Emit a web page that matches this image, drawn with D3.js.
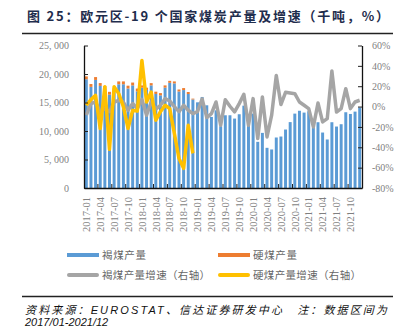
<!DOCTYPE html>
<html>
<head>
<meta charset="utf-8">
<script src="https://cdn.jsdelivr.net/npm/d3@7"></script>
<style>
body { margin: 0; background: #fff; }
svg { display: block; }
</style>
</head>
<body>
<div class="output"></div>
<script>
// 月份 2017-01 ... 2021-12
const months = [];
for (let y = 2017; y <= 2021; y++) {
    for (let m = 1; m <= 12; m++) months.push(y + "-" + String(m).padStart(2, "0"));
}

// 褐煤产量（千吨）
const lignite = [
    19080, 17740, 18960, 17910, 17400, 16370, 17000, 18200, 18200, 17450, 18000, 16950,
    17600, 17200, 18000, 16500, 16250, 17600, 18450, 18350, 16930, 17180, 16490, 15530,
    15030, 15970, 14510, 12470, 13630, 10840, 12760, 12760, 12180, 12940, 14450, 11010,
    13050, 8100, 9670, 7050, 6760, 8860, 9030, 10260, 11560, 13050, 13550, 13230,
    13460, 10610, 11540, 9730, 8510, 11540, 10780, 11190, 13290, 12990, 13400, 14100
];
// 硬煤产量（千吨），2019 年起无数据
const hardCoal = [
    500, 500, 500, 500, 500, 500, 500, 500, 500, 500, 500, 500,
    400, 400, 400, 400, 400, 400, 350, 350, 350, 350, 350, 150,
    null, null, null, null, null, null, null, null, null, null, null, null,
    null, null, null, null, null, null, null, null, null, null, null, null,
    null, null, null, null, null, null, null, null, null, null, null, null
];
// 褐煤产量增速（%，右轴）
const ligniteYoY = [
    -8.5, 3, 4.5, -5, -2, -5, 4.5, 6, 4.5, -3.6, 3, -2,
    7, -8.5, 4.5, -2.5, 1.3, 7.8, 5.5, 0, -5, 1.3, -3.6, -7,
    -5, 7.5, -10.8, -6.9, 4.5, -18.3, 6.8, 0.3, -5.3, 2.9, 12, -18.3,
    7.8, -31.4, 9.4, -29.8, -8.5, 30.6, 2, 14, 13.3, 12.7, 4.5, 1.3,
    -2, -20, 3.5, -15.1, -11.8, 35, -5.3, -2, 17.6, -2, 4.5, 6.2
];
// 硬煤产量增速（%，右轴）
const hardCoalYoY = [
    1.3, 6.8, 11, -21.5, 19.5, -42, 19.5, 12.7, 0, -21.5, -3.6, -4.5,
    45.3, 4.5, 14.3, -13.4, -5, 1.3, -2, -26.4, -50.9, -60.7, -18.3, -46
];

const leftTicks = [0, 5000, 10000, 15000, 20000, 25000];
const leftTickLabels = ["0", "5, 000", "10, 000", "15, 000", "20, 000", "25, 000"];
const rightTicks = [-80, -60, -40, -20, 0, 20, 40, 60];
const rightTickLabels = ["-80%", "-60%", "-40%", "-20%", "0%", "20%", "40%", "60%"];

const colors = { lignite: "#5b9bd5", hard: "#ed7d31", ligYoY: "#a5a5a5", hardYoY: "#ffc000" };

const W = 411, H = 331;
const plot = { left: 84, right: 362, top: 45.5, bottom: 188 };

const svg = d3.select(".output").append("svg")
    .attr("width", W).attr("height", H);

// 标题
svg.append("text")
    .attr("x", 27).attr("y", 21)
    .attr("textLength", 362).attr("lengthAdjust", "spacing")
    .style("font-family", "'Noto Sans CJK SC', sans-serif")
    .style("font-size", "13px").style("font-weight", "bold")
    .style("fill", "#1f2d4d")
    .text("图 25：欧元区-19 个国家煤炭产量及增速（千吨，%）");
svg.append("line")
    .attr("x1", 22).attr("x2", 393).attr("y1", 33.5).attr("y2", 33.5)
    .attr("stroke", "#222").attr("stroke-width", 1.5);

// 比例尺
let x = d3.scaleBand()
    .domain(months)
    .range([plot.left, plot.right])
    .paddingInner(0.36)
    .paddingOuter(0.18);
let y = d3.scaleLinear().domain([0, 25000]).range([plot.bottom, plot.top]);
let y2 = d3.scaleLinear().domain([-80, 60]).range([plot.bottom, plot.top]);

// 柱状图
let bars = svg.append("g");
bars.selectAll("rect.lig")
    .data(months)
    .enter().append("rect")
    .attr("class", "lig")
    .attr("x", (d) => x(d))
    .attr("width", x.bandwidth())
    .attr("y", (d, i) => y(lignite[i]))
    .attr("height", (d, i) => y(0) - y(lignite[i]))
    .attr("fill", colors.lignite);
bars.selectAll("rect.hard")
    .data(months.filter((d, i) => hardCoal[i] != null))
    .enter().append("rect")
    .attr("class", "hard")
    .attr("x", (d) => x(d))
    .attr("width", x.bandwidth())
    .attr("y", (d, i) => y(lignite[i] + hardCoal[i]))
    .attr("height", (d, i) => y(lignite[i]) - y(lignite[i] + hardCoal[i]))
    .attr("fill", colors.hard);

// 折线
let cx = (i) => x(months[i]) + x.bandwidth() / 2;
let line = d3.line()
    .defined((d) => d != null)
    .x((d, i) => cx(i))
    .y((d) => y2(d));
svg.append("path")
    .attr("d", line(ligniteYoY))
    .attr("fill", "none")
    .attr("stroke", colors.ligYoY)
    .attr("stroke-width", 3.5)
    .attr("stroke-linejoin", "round");
svg.append("path")
    .attr("d", line(hardCoalYoY))
    .attr("fill", "none")
    .attr("stroke", colors.hardYoY)
    .attr("stroke-width", 3.5)
    .attr("stroke-linejoin", "round");

// 坐标轴
const axisFont = "'Liberation Serif', 'Times New Roman', serif";
let leftAxis = svg.append("g")
    .attr("transform", "translate(" + plot.left + ",0)")
    .call(d3.axisLeft(y).tickValues(leftTicks)
        .tickFormat((d, i) => leftTickLabels[i])
        .tickSizeInner(-4).tickSizeOuter(0).tickPadding(15));
let rightAxis = svg.append("g")
    .attr("transform", "translate(" + plot.right + ",0)")
    .call(d3.axisRight(y2).tickValues(rightTicks)
        .tickFormat((d, i) => rightTickLabels[i])
        .tickSizeInner(-4).tickSizeOuter(0).tickPadding(10));

let labelMonths = months.filter((d, i) => i % 3 === 0);
let bottomAxis = svg.append("g")
    .attr("transform", "translate(0," + plot.bottom + ")")
    .call(d3.axisBottom(x).tickValues(labelMonths).tickSize(0).tickPadding(0));
bottomAxis.selectAll(".tick text")
    .attr("transform", "rotate(-90)")
    .attr("x", -9).attr("y", 0).attr("dy", "0.35em")
    .style("text-anchor", "end");

// 分类轴刻度线（位于每 3 个月的分界处）
let tickIdx = d3.range(3, months.length, 3);
bottomAxis.selectAll("line.sep")
    .data(tickIdx)
    .enter().append("line")
    .attr("class", "sep")
    .attr("x1", (i) => x(months[i]) - x.step() * 0.18)
    .attr("x2", (i) => x(months[i]) - x.step() * 0.18)
    .attr("y1", 0).attr("y2", -4)
    .attr("stroke", "#222");

[leftAxis, rightAxis, bottomAxis].forEach((g) => {
    g.select(".domain").attr("stroke", "#111").attr("stroke-width", 1.3);
    g.selectAll(".tick line").attr("stroke", "#222");
    g.selectAll(".tick text")
        .style("font-family", axisFont)
        .style("font-size", "10px")
        .style("fill", "#7f7f7f");
});
bottomAxis.selectAll(".tick text").style("font-size", "10.5px");

// 图例
const legendFont = "'Noto Sans CJK SC', sans-serif";
let legend = [
    { name: "褐煤产量", color: colors.lignite, type: "rect", x: 67, y: 255, len: 44 },
    { name: "硬煤产量", color: colors.hard, type: "rect", x: 218, y: 255, len: 44 },
    { name: "褐煤产量增速（右轴）", color: colors.ligYoY, type: "line", x: 67, y: 275, len: 108 },
    { name: "硬煤产量增速（右轴）", color: colors.hardYoY, type: "line", x: 218, y: 275, len: 108 }
];
let lg = svg.append("g")
    .selectAll("g")
    .data(legend)
    .enter().append("g")
    .attr("transform", (d) => "translate(" + d.x + "," + d.y + ")");
lg.append("rect")
    .attr("x", 0).attr("y", -2)
    .attr("width", 32).attr("height", 4)
    .attr("rx", (d) => d.type === "line" ? 2 : 0)
    .attr("fill", (d) => d.color);
lg.append("text")
    .attr("x", 35).attr("y", 4)
    .attr("textLength", (d) => d.len).attr("lengthAdjust", "spacing")
    .style("font-family", legendFont)
    .style("font-size", "10.5px")
    .style("fill", "#666")
    .text((d) => d.name);

// 资料来源
svg.append("line")
    .attr("x1", 22).attr("x2", 393).attr("y1", 296.5).attr("y2", 296.5)
    .attr("stroke", "#222").attr("stroke-width", 1.5);
svg.append("text")
    .attr("x", 25).attr("y", 314)
    .attr("textLength", 362).attr("lengthAdjust", "spacing")
    .style("font-family", "'Liberation Sans', 'Noto Sans CJK SC', sans-serif")
    .style("font-size", "11px").style("font-style", "italic")
    .style("fill", "#111")
    .text("资料来源：EUROSTAT、信达证券研发中心　注：数据区间为");
svg.append("text")
    .attr("x", 25).attr("y", 326)
    .style("font-family", "'Liberation Sans', sans-serif")
    .style("font-size", "11px").style("font-style", "italic")
    .style("fill", "#111")
    .text("2017/01-2021/12");
</script>
</body>
</html>
